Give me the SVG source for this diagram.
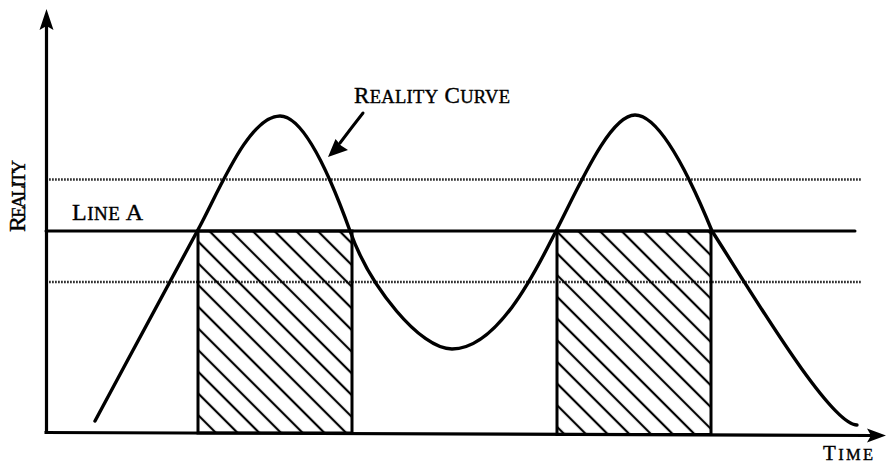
<svg xmlns="http://www.w3.org/2000/svg" width="888" height="464" viewBox="0 0 888 464">
<style>
.ax{stroke:#000;stroke-width:3.2;fill:none}
.dot{stroke:#333;stroke-width:2.4;stroke-dasharray:1.8 1.2;fill:none}
.lineA{stroke:#000;stroke-width:3;fill:none;stroke-linecap:round}
.curve{stroke:#000;stroke-width:3.4;fill:none;stroke-linecap:round}
.box{stroke:#000;stroke-width:3;fill:url(#hatch)}
.lbl{font-family:"Liberation Serif","DejaVu Serif",serif;fill:#000;stroke:#000;stroke-width:0.4}
</style>
<defs>
<pattern id="hatch" patternUnits="userSpaceOnUse" width="15.34" height="15.34" patternTransform="rotate(45)">
<line x1="-1" y1="0" x2="17" y2="0" stroke="#000" stroke-width="2.2"/>
<line x1="-1" y1="15.34" x2="17" y2="15.34" stroke="#000" stroke-width="2.2"/>
</pattern>
</defs>
<rect width="888" height="464" fill="#fff"/>
<g id="guides">
<line class="dot" x1="46" y1="179.5" x2="862" y2="179.5"/>
<line class="dot" x1="46" y1="282" x2="862" y2="282"/>
</g>
<g id="shaded-1"><rect class="box" x="198" y="231" width="154" height="202"/></g>
<g id="shaded-2"><rect class="box" x="557" y="231" width="154" height="203.5"/></g>
<g id="line-a">
<line class="lineA" x1="46" y1="231" x2="855" y2="231"/>
</g>
<g id="axes">
<line class="ax" x1="46.5" y1="26" x2="46.5" y2="432.5"/>
<polygon points="46.5,9 39.5,30 46.5,26 53.5,30" fill="#000"/>
<line class="ax" x1="44.5" y1="432.5" x2="872" y2="435.5"/>
<polygon points="886,435.5 867,428.5 871,435.5 867,442.5" fill="#000"/>
</g>
<g id="reality-curve">
<path class="curve" d="M95,421 C130,355 170,283 200,226 C222,184 250,116 280,116 C296,116 318,142 350,231 C370,287 420,349 452,349 C500,349 540,262 556,231 C580,184 610,115 635,115 C657,115 685,165 712,231 C750,290 830,425 857,425"/>
</g>
<g id="connectors">
<path d="M363,113 Q352,127 340,143" stroke="#000" stroke-width="3" fill="none" stroke-linecap="round"/>
<polygon points="328,157 335.5,139 341,145.5 348,150" fill="#000"/>
</g>
<g id="labels">
<text class="lbl" x="354" y="103" font-size="23" textLength="156" lengthAdjust="spacing">R<tspan font-size="18.5">EALITY</tspan> C<tspan font-size="18.5">URVE</tspan></text>
<text class="lbl" x="72" y="220" font-size="24" textLength="71" lengthAdjust="spacing">L<tspan font-size="19">INE</tspan> A</text>
<text class="lbl" transform="translate(25,232) rotate(-90)" x="0" y="0" font-size="24" textLength="72" lengthAdjust="spacing">R<tspan font-size="19">EALITY</tspan></text>
<text class="lbl" x="823" y="460" font-size="21" textLength="50" lengthAdjust="spacing">T<tspan font-size="16.5">IME</tspan></text>
</g>
</svg>
